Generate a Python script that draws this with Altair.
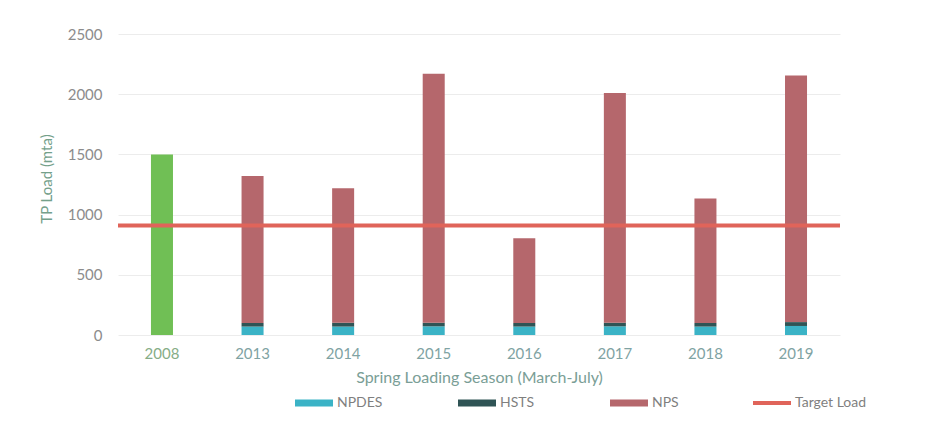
import altair as alt
import pandas as pd

years = ["2008", "2013", "2014", "2015", "2016", "2017", "2018", "2019"]
total_2008 = 1500
npdes = [70, 70, 72, 70, 72, 70, 75]
hsts = [30, 32, 30, 30, 30, 30, 32]
nps = [1220, 1118, 2068, 703, 1908, 1033, 2048]
target_load = 910

rows = [{"year": "2008", "component": "Total", "ord": 0, "value": total_2008}]
for i, y in enumerate(years[1:]):
    rows.append({"year": y, "component": "NPDES", "ord": 0, "value": npdes[i]})
    rows.append({"year": y, "component": "HSTS", "ord": 1, "value": hsts[i]})
    rows.append({"year": y, "component": "NPS", "ord": 2, "value": nps[i]})
df = pd.DataFrame(rows)
target_df = pd.DataFrame({"series": ["Target Load"], "value": [target_load]})

FONT = "Lato"
rect_path = "M-1,-0.18H1V0.18H-1Z"

bars = alt.Chart(df).mark_bar().encode(
    x=alt.X("year:N", sort=years,
            scale=alt.Scale(paddingInner=0.757, paddingOuter=0.364),
            axis=alt.Axis(title="Spring Loading Season (March-July)", labelAngle=0,
                          domain=False, ticks=False, labelPadding=11, titlePadding=8,
                          labelFontSize=15, titleFontSize=16, titleFontWeight="normal",
                          labelColor={"expr": "datum.value == '2008' ? '#86ad86' : '#7fa3a3'"},
                          titleColor="#7a9e96", labelFont=FONT, titleFont=FONT)),
    y=alt.Y("value:Q", stack="zero",
            scale=alt.Scale(domain=[0, 2500]),
            axis=alt.Axis(title="TP Load (mta)", values=[0, 500, 1000, 1500, 2000, 2500],
                          format="d",
                          domain=False, ticks=False, labelPadding=16, titlePadding=13,
                          labelFontSize=15, titleFontSize=15, titleFontWeight="normal",
                          labelColor="#8c8c8c", titleColor="#74a08a",
                          gridColor="#ececec", labelFont=FONT, titleFont=FONT)),
    fill=alt.Fill("component:N",
                  scale=alt.Scale(domain=["NPDES", "HSTS", "NPS", "Total"],
                                  range=["#3bb3c6", "#2f5455", "#b5676c", "#70bf55"]),
                  legend=alt.Legend(values=["NPDES", "HSTS", "NPS"], orient="none",
                                    direction="horizontal", legendX=177, legendY=362,
                                    title=None, symbolType=rect_path, symbolSize=1444,
                                    symbolStrokeWidth=0, columnPadding=75, labelOffset=4,
                                    labelFontSize=14, labelColor="#7f7f7f", labelFont=FONT)),
    order=alt.Order("ord:Q"),
)

rule = alt.Chart(target_df).mark_rule(strokeWidth=4).encode(
    y="value:Q",
    stroke=alt.Stroke("series:N",
                      scale=alt.Scale(domain=["Target Load"], range=["#e0645a"]),
                      legend=alt.Legend(orient="none", legendX=633, legendY=360,
                                        title=None, symbolType="stroke", symbolSize=1444,
                                        symbolStrokeWidth=4, labelOffset=2,
                                        labelFontSize=14, labelColor="#7f7f7f", labelFont=FONT)),
)

chart = alt.layer(bars, rule).properties(
    width=722, height=313,
    autosize=alt.AutoSizeParams(type="none"),
    padding={"left": 110, "top": 14, "right": 85, "bottom": 90},
).configure(background="white", view=alt.ViewConfig(stroke=None))

chart.save("out.html", embed_options={"renderer": "svg", "actions": False})
